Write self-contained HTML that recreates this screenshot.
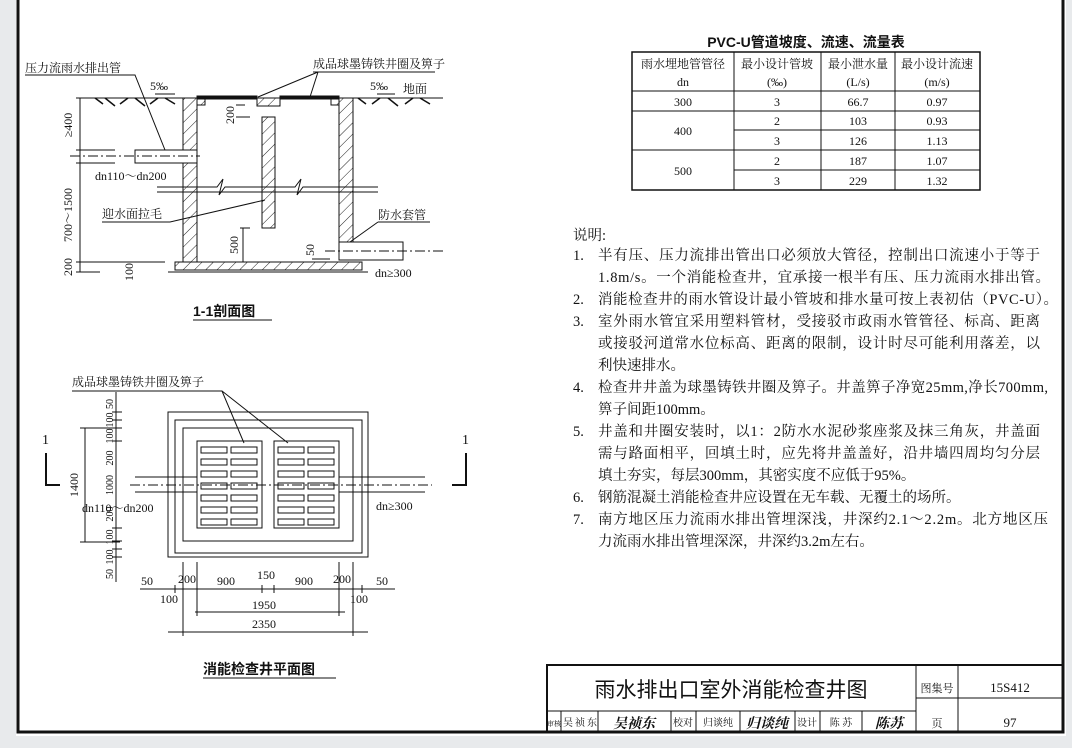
<!DOCTYPE html>
<html><head><meta charset="utf-8"><style>
html,body{margin:0;padding:0;background:#e8eaec;}
svg{display:block;}
text{font-family:"Liberation Serif","Noto Serif CJK SC","Noto Sans CJK SC",serif;fill:#111;}
.s{font-family:"Liberation Sans","Noto Sans CJK SC",sans-serif;}
</style></head><body>
<svg width="1072" height="748" viewBox="0 0 1072 748" xmlns="http://www.w3.org/2000/svg">
<defs>
<pattern id="h" patternUnits="userSpaceOnUse" width="8" height="8" patternTransform="rotate(45)">
<rect width="8" height="8" fill="#fff"/><line x1="0" y1="0" x2="0" y2="8" stroke="#222" stroke-width="1"/>
</pattern>
</defs>
<rect x="16" y="0" width="1050" height="736" fill="#fff"/>
<rect x="18" y="-4" width="1045" height="736" fill="none" stroke="#111" stroke-width="3"/>

<g stroke="#111" fill="none" stroke-width="1">
<!-- SECTION 1-1 -->
<line x1="93" y1="98" x2="443" y2="98"/>
<path stroke-width="1.5" d="M95 98 l8 6 M105 98 l10 8 M120 104 l8 -6 M135 98 l10 8 M150 104 l8-6 M165 98 l10 6 M358 98 l8 6 M372 104 l8 -6 M388 98 l10 8 M405 104 l8-6 M420 98 l10 6"/>
<rect x="183" y="98" width="14" height="52" fill="url(#h)"/>
<rect x="183" y="163" width="14" height="99" fill="url(#h)"/>
<rect x="339" y="98" width="14" height="144" fill="url(#h)"/>
<rect x="197" y="98" width="8" height="7" fill="url(#h)"/>
<rect x="331" y="98" width="8" height="7" fill="url(#h)"/>
<rect x="257" y="98" width="23" height="8" fill="url(#h)"/>
<rect x="262" y="117" width="13" height="111" fill="url(#h)"/>
<rect x="175" y="262" width="187" height="8" fill="url(#h)"/>
<line x1="168" y1="272" x2="368" y2="272"/>
<rect x="197" y="96" width="60" height="3" fill="#111"/>
<rect x="280" y="96" width="59" height="3" fill="#111"/>
<rect x="135" y="150" width="62" height="13" fill="#fff"/>
<line x1="70" y1="156" x2="200" y2="156" stroke-dasharray="10 3 2 3"/>
<path d="M157 187 H217 l6 -8 l-4 16 l6 -8 H295 l6 -8 l-4 16 l6 -8 H378"/>
<path d="M157 192 H378" />
<rect x="339" y="242" width="64" height="18" fill="#fff"/>
<line x1="325" y1="251" x2="445" y2="251" stroke-dasharray="10 3 2 3"/>
<line x1="80" y1="98" x2="80" y2="272"/>
<path d="M76 98 H100 M76 150 H115 M76 163 H115 M76 262 H165 M76 272 H100"/>
<path d="M236 105 H245 M236 117 H250 M240 228 H250 M240 262 H250 M312 262 H330 M312 259 H330"/>
<line x1="243" y1="228" x2="243" y2="262"/>
<path d="M25 75 H135 L165 150"/>
<path d="M313 72 H435 M318 72 L258 97 M318 72 L310 97"/>
<path d="M102 222 H170 L265 200"/>
<path d="M378 222 H430 M378 222 L350 242"/>
<path d="M155 94 H175 M377 94 H395"/>
<line x1="193" y1="320" x2="272" y2="320"/>

<!-- PLAN -->
<rect x="168" y="412" width="200" height="145"/>
<rect x="175" y="420" width="187" height="133"/>
<rect x="183" y="428" width="170" height="113"/>
<rect x="197" y="441" width="65" height="87" fill="#fff"/>
<rect x="274" y="441" width="65" height="87" fill="#fff"/>
<g>
<rect x="201" y="447" width="26" height="6"/><rect x="231" y="447" width="26" height="6"/><rect x="278" y="447" width="26" height="6"/><rect x="308" y="447" width="26" height="6"/>
<rect x="201" y="459" width="26" height="6"/><rect x="231" y="459" width="26" height="6"/><rect x="278" y="459" width="26" height="6"/><rect x="308" y="459" width="26" height="6"/>
<rect x="201" y="471" width="26" height="6"/><rect x="231" y="471" width="26" height="6"/><rect x="278" y="471" width="26" height="6"/><rect x="308" y="471" width="26" height="6"/>
<rect x="201" y="483" width="26" height="6"/><rect x="231" y="483" width="26" height="6"/><rect x="278" y="483" width="26" height="6"/><rect x="308" y="483" width="26" height="6"/>
<rect x="201" y="495" width="26" height="6"/><rect x="231" y="495" width="26" height="6"/><rect x="278" y="495" width="26" height="6"/><rect x="308" y="495" width="26" height="6"/>
<rect x="201" y="507" width="26" height="6"/><rect x="231" y="507" width="26" height="6"/><rect x="278" y="507" width="26" height="6"/><rect x="308" y="507" width="26" height="6"/>
<rect x="201" y="519" width="26" height="6"/><rect x="231" y="519" width="26" height="6"/><rect x="278" y="519" width="26" height="6"/><rect x="308" y="519" width="26" height="6"/>
</g>
<path d="M135 477 H197 M135 492 H197 M339 477 H425 M339 492 H425"/>
<line x1="130" y1="485" x2="432" y2="485" stroke-dasharray="10 3 2 3"/>
<path d="M46 453 V485 H60 M466 453 V485 H452" stroke-width="2"/>
<path d="M72 391 H222 L244 443 M222 391 L288 443"/>
<line x1="116" y1="392" x2="116" y2="582"/>
<path d="M112 412 H122 M112 420 H122 M112 428 H122 M112 441 H122 M112 528 H122 M112 541 H122 M112 549 H122 M112 557 H122"/>
<line x1="85" y1="428" x2="85" y2="542"/><path d="M80 428 H120 M80 542 H120"/>
<line x1="140" y1="589" x2="395" y2="589"/>
<line x1="195" y1="612" x2="345" y2="612"/>
<line x1="168" y1="632" x2="368" y2="632"/>
<path d="M183 562 V636 M353 562 V636 M197 562 V616 M339 562 V616 M175 585 V593 M362 585 V593 M262 585 V593 M274 585 V593"/>
<line x1="203" y1="678" x2="336" y2="678"/>

<!-- TABLE -->
<rect x="632" y="52" width="348" height="138" stroke-width="1.5"/>
<path d="M734 52 V190 M821 52 V190 M895 52 V190 M632 91 H980 M632 111 H980 M734 130 H980 M632 150 H980 M734 170 H980"/>

<!-- TITLE BLOCK -->
<rect x="547" y="665" width="516" height="67" stroke-width="2"/>
<path d="M547 711 H916 M916 665 V732 M958 665 V732 M916 698 H1063 M561 711 V732 M598 711 V732 M671 711 V732 M696 711 V732 M740 711 V732 M795 711 V732 M820 711 V732 M862 711 V732"/>
</g>

<g font-size="12">
<text x="25" y="72">压力流雨水排出管</text>
<text x="313" y="68">成品球墨铸铁井圈及箅子</text>
<text x="150" y="90">5‰</text><text x="370" y="90">5‰</text>
<text x="403" y="93">地面</text>
<text x="95" y="180">dn110～dn200</text>
<text x="102" y="218">迎水面拉毛</text>
<text x="378" y="219">防水套管</text>
<text x="375" y="277">dn≥300</text>
<text transform="translate(72,125) rotate(-90)" text-anchor="middle">≥400</text>
<text transform="translate(72,215) rotate(-90)" text-anchor="middle">700～1500</text>
<text transform="translate(72,267) rotate(-90)" text-anchor="middle">200</text>
<text transform="translate(234,115) rotate(-90)" text-anchor="middle">200</text>
<text transform="translate(238,245) rotate(-90)" text-anchor="middle">500</text>
<text transform="translate(314,250) rotate(-90)" text-anchor="middle">50</text>
<text transform="translate(133,272) rotate(-90)" text-anchor="middle">100</text>
</g>
<text x="193" y="316" font-size="14" font-weight="bold" class="s">1-1剖面图</text>

<g font-size="12">
<text x="72" y="386">成品球墨铸铁井圈及箅子</text>
<text x="42" y="444" font-size="14">1</text><text x="462" y="444" font-size="14">1</text>
<text x="82" y="512">dn110～dn200</text>
<text x="376" y="510">dn≥300</text>
<text transform="translate(78,485) rotate(-90)" text-anchor="middle">1400</text>
<g font-size="10">
<text transform="translate(113,404) rotate(-90)" text-anchor="middle">50</text>
<text transform="translate(113,420) rotate(-90)" text-anchor="middle">100</text>
<text transform="translate(113,436) rotate(-90)" text-anchor="middle">100</text>
<text transform="translate(113,458) rotate(-90)" text-anchor="middle">200</text>
<text transform="translate(113,485) rotate(-90)" text-anchor="middle">1000</text>
<text transform="translate(113,514) rotate(-90)" text-anchor="middle">200</text>
<text transform="translate(113,537) rotate(-90)" text-anchor="middle">100</text>
<text transform="translate(113,557) rotate(-90)" text-anchor="middle">100</text>
<text transform="translate(113,574) rotate(-90)" text-anchor="middle">50</text>
</g>
<text x="141" y="585">50</text><text x="178" y="583">200</text><text x="217" y="585">900</text>
<text x="257" y="579">150</text><text x="295" y="585">900</text><text x="333" y="583">200</text><text x="376" y="585">50</text>
<text x="160" y="603">100</text><text x="350" y="603">100</text>
<text x="252" y="609">1950</text><text x="252" y="628">2350</text>
</g>
<text x="203" y="674" font-size="14" font-weight="bold" class="s">消能检查井平面图</text>

<text x="806" y="47" font-size="14" font-weight="bold" class="s" text-anchor="middle">PVC-U管道坡度、流速、流量表</text>
<g font-size="12" text-anchor="middle">
<text x="683" y="68">雨水埋地管管径</text><text x="777" y="68">最小设计管坡</text><text x="858" y="68">最小泄水量</text><text x="937" y="68">最小设计流速</text>
<text x="683" y="86">dn</text><text x="777" y="86">(‰)</text><text x="858" y="86">(L/s)</text><text x="937" y="86">(m/s)</text>
<text x="683" y="106">300</text><text x="777" y="106">3</text><text x="858" y="106">66.7</text><text x="937" y="106">0.97</text>
<text x="683" y="135">400</text><text x="777" y="125">2</text><text x="858" y="125">103</text><text x="937" y="125">0.93</text>
<text x="777" y="145">3</text><text x="858" y="145">126</text><text x="937" y="145">1.13</text>
<text x="683" y="175">500</text><text x="777" y="165">2</text><text x="858" y="165">187</text><text x="937" y="165">1.07</text>
<text x="777" y="185">3</text><text x="858" y="185">229</text><text x="937" y="185">1.32</text>
</g>

<g font-size="14.5">
<text x="573" y="240">说明:</text>
<text x="573" y="260">1.</text><text x="598" y="260" textLength="442">半有压、压力流排出管出口必须放大管径，控制出口流速小于等于</text>
<text x="598" y="282" textLength="452">1.8m/s。一个消能检查井，宜承接一根半有压、压力流雨水排出管。</text>
<text x="573" y="304">2.</text><text x="598" y="304" textLength="460">消能检查井的雨水管设计最小管坡和排水量可按上表初估（PVC-U）。</text>
<text x="573" y="326">3.</text><text x="598" y="326" textLength="442">室外雨水管宜采用塑料管材，受接驳市政雨水管管径、标高、距离</text>
<text x="598" y="348" textLength="442">或接驳河道常水位标高、距离的限制，设计时尽可能利用落差，以</text>
<text x="598" y="370">利快速排水。</text>
<text x="573" y="392">4.</text><text x="598" y="392" textLength="450">检查井井盖为球墨铸铁井圈及箅子。井盖箅子净宽25mm,净长700mm,</text>
<text x="598" y="414">箅子间距100mm。</text>
<text x="573" y="436">5.</text><text x="598" y="436" textLength="442">井盖和井圈安装时，以1：2防水水泥砂浆座浆及抹三角灰，井盖面</text>
<text x="598" y="458" textLength="442">需与路面相平，回填土时，应先将井盖盖好，沿井墙四周均匀分层</text>
<text x="598" y="480">填土夯实，每层300mm，其密实度不应低于95%。</text>
<text x="573" y="502">6.</text><text x="598" y="502">钢筋混凝土消能检查井应设置在无车载、无覆土的场所。</text>
<text x="573" y="524">7.</text><text x="598" y="524" textLength="450">南方地区压力流雨水排出管埋深浅，井深约2.1～2.2m。北方地区压</text>
<text x="598" y="546">力流雨水排出管埋深深，井深约3.2m左右。</text>
</g>

<text x="731" y="697" font-size="21" class="s" text-anchor="middle">雨水排出口室外消能检查井图</text>
<g font-size="11" text-anchor="middle">
<text x="937" y="692">图集号</text><text x="1010" y="692" font-size="13">15S412</text>
<text x="937" y="727">页</text><text x="1010" y="727" font-size="13">97</text>
<text x="554" y="726" font-size="7">审核</text><text x="580" y="726" textLength="34" font-size="10">吴祯东</text>
<text x="634" y="728" font-size="14" font-style="italic" font-weight="bold">吴祯东</text>
<text x="683" y="726" font-size="10">校对</text><text x="718" y="726" font-size="10">归谈纯</text>
<text x="767" y="728" font-size="14" font-style="italic" font-weight="bold">归谈纯</text>
<text x="807" y="726" font-size="10">设计</text><text x="841" y="726" font-size="10">陈 苏</text>
<text x="889" y="728" font-size="14" font-style="italic" font-weight="bold">陈苏</text>
</g>
</svg>
</body></html>
